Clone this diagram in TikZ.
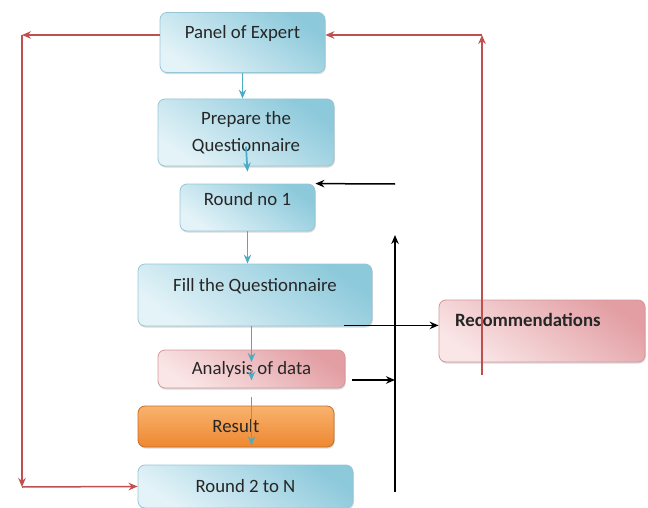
\documentclass[tikz,border=0pt]{standalone}
\usepackage{fontspec}
\setmainfont{Carlito}
\usetikzlibrary{shadows,arrows.meta}
\definecolor{blueL}{RGB}{228,243,248}
\definecolor{blueD}{RGB}{140,201,219}
\definecolor{blueE}{RGB}{150,198,214}
\definecolor{pinkL}{RGB}{250,230,231}
\definecolor{pinkD}{RGB}{226,158,163}
\definecolor{pinkE}{RGB}{214,150,155}
\definecolor{orangeL}{RGB}{249,178,110}
\definecolor{orangeD}{RGB}{238,136,48}
\definecolor{orangeE}{RGB}{196,110,40}
\definecolor{redline}{RGB}{192,80,77}
\definecolor{blueline}{RGB}{75,172,198}
\newcommand\boxfont{\fontsize{18.8}{27}\selectfont}
\tikzset{
  box/.style={rounded corners=7pt,line width=0.8pt,inner sep=2pt,font=\boxfont,text=black!85,
    drop shadow={shadow xshift=0.8pt,shadow yshift=-1.6pt,opacity=0.3,fill=gray}},
  bluebox/.style={box,draw=blueE,top color=blueD,bottom color=blueL,shading angle=-35},
  pinkbox/.style={box,draw=pinkE,top color=pinkD,bottom color=pinkL,shading angle=-35},
  orangebox/.style={box,draw=orangeE,top color=orangeL,bottom color=orangeD},
  redarrow/.style={->,draw=redline,line width=1.5pt},
  blackarrow/.style={->,draw=black,line width=1.5pt},
  bluearrow/.style={->,draw=blueline,line width=1.7pt}
}
\begin{document}
\begin{tikzpicture}[x=1pt,y=-1pt,>={Stealth[length=9pt,width=7.5pt]}]
\useasboundingbox (0,0) rectangle (648,508);
\node[bluebox,minimum width=165pt,minimum height=60pt,text height=14pt,text depth=22pt] (panel) at (242.5,42.5) {Panel of Expert};
\node[bluebox,minimum width=176pt,minimum height=67pt,align=center] (prepare) at (246,132.5) {Prepare the\\Questionnaire};
\node[bluebox,minimum width=135pt,minimum height=47pt,text height=14pt,text depth=19pt] (round1) at (247.5,207.5) {Round no 1};
\node[bluebox,minimum width=234pt,minimum height=62pt,text height=14pt,text depth=22pt] (fill) at (255,295) {Fill the Questionnaire};
\node[pinkbox,minimum width=187pt,minimum height=38pt] (analysis) at (251.5,369) {Analysis of data};
\node[orangebox,minimum width=196pt,minimum height=41pt] (result) at (236,426.5) {Result};
\node[bluebox,minimum width=215pt,minimum height=43pt] (round2) at (245.5,486.5) {Round 2 to N};
\node[pinkbox,minimum width=206pt,minimum height=62pt,text width=174pt,inner xsep=16pt,align=left,
  text height=14pt,text depth=24pt,font=\boxfont\bfseries] (recom) at (542,331) {Recommendations};
% feedback loops
\coordinate (lt) at (22,35);
\coordinate (lb) at (22,487);
\coordinate (rt) at (482,35);
\coordinate (rb) at (482,375);
\draw[redarrow] ([yshift=7.5pt]panel.west) -- (lt);
\draw[redarrow] (lt) -- (lb);
\draw[redarrow] (lb) -- (round2.west);
\draw[redarrow] (rb) -- (rt);
\draw[redarrow] (rt) -- ([yshift=7.5pt]panel.east);
% black arrows
\coordinate (bt) at (395,184);
\coordinate (vt) at (395,235);
\coordinate (vb) at (395,492);
\coordinate (fo) at ([xshift=-28pt,yshift=1pt]fill.south east);
\coordinate (ao) at ([shift={(7pt,-11pt)}]analysis.east);
\draw[blackarrow] (bt) -- (round1.north east);
\draw[blackarrow] (vb) -- (vt);
\draw[blackarrow] (fo) -- (fo -| recom.west);
\draw[blackarrow] (ao) -- (ao -| vb);
% main flow
\coordinate (rs) at (analysis.south |- result.south);
\draw[bluearrow] (panel.south) -- (panel.south |- prepare.north);
\draw[bluearrow] ([yshift=-14pt]prepare.center) -- ([yshift=12pt]round1.north);
\draw[bluearrow] (round1.south) -- (round1.south |- fill.north);
\draw[bluearrow] (analysis.center |- fill.south) -- ([yshift=7pt]analysis.center);
\draw[bluearrow] (analysis.center) -- ([yshift=8pt]analysis.south);
\draw[bluearrow] ([yshift=-9pt]analysis.south) -- ([yshift=2pt]rs);
\end{tikzpicture}
\end{document}
